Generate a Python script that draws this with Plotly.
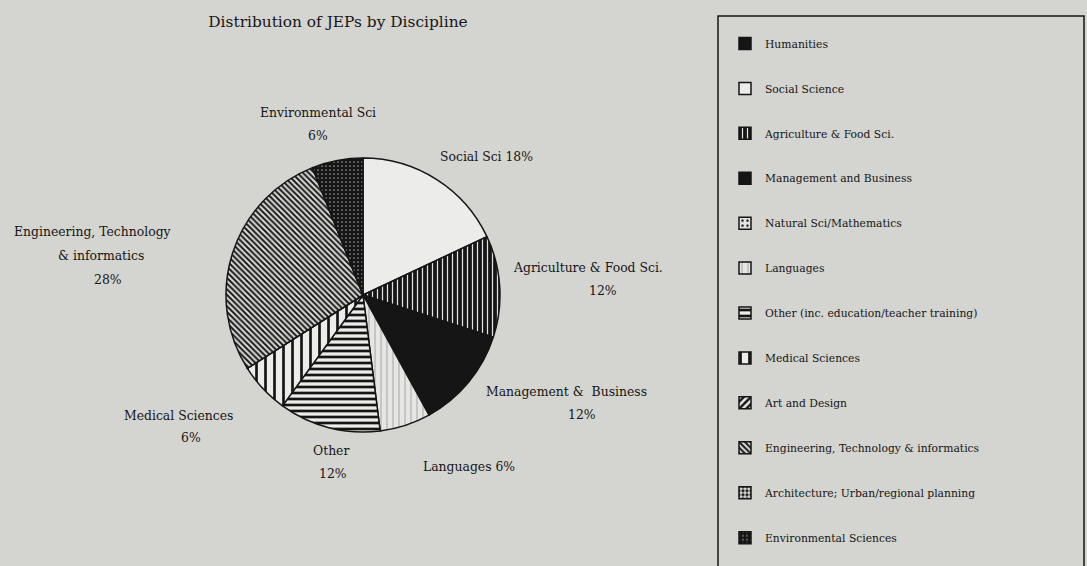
import plotly.graph_objects as go

# ---- data ----
categories = [
    "Humanities", "Social Science", "Agriculture & Food Sci.",
    "Management and Business", "Natural Sci/Mathematics", "Languages",
    "Other (inc. education/teacher training)", "Medical Sciences",
    "Art and Design", "Engineering, Technology & informatics",
    "Architecture; Urban/regional planning", "Environmental Sciences",
]
shares = [0, 18, 12, 12, 0, 6, 12, 6, 0, 28, 0, 6]

# slice labels printed around the pie (text lines)
label_lines = [
    ["Environmental Sci", "6%"],
    ["Social Sci 18%"],
    ["Agriculture & Food Sci.", "12%"],
    ["Management &  Business", "12%"],
    ["Languages 6%"],
    ["Other", "12%"],
    ["Medical Sciences", "6%"],
    ["Engineering, Technology", "& informatics", "28%"],
]

# ---- styles ----
W, H = 1087, 566
BG = "#d4d4d0"
INK = "#151515"
shapes_ = ["", "", "|", "", ".", "|", "-", "|", "/", "\\", ".", "."]
fgcols = ["#151515", "#151515", "#e2e2e0", "#151515", "#222222", "#8a8a8a",
          "#151515", "#151515", "#151515", "#1a1a1a", "#151515", "#9a9a98"]
bgcols = ["#151515", "#ececea", "#151515", "#151515", "#e6e6e4", "#e6e6e4",
          "#ececea", "#ececea", "#ececea", "#dcdcda", "#d8d8d6", "#151515"]
psizes = [6, 6, 5, 6, 5, 6, 6, 9, 5, 4, 4, 4]
psolid = [0.3, 0.3, 0.25, 0.3, 0.2, 0.12, 0.45, 0.3, 0.5, 0.5, 0.5, 0.15]

# label line positions (pixel centres)
label_pos = [
    [(318, 113), (318, 135)],
    [(486, 157)],
    [(588, 267), (603, 290)],
    [(566, 391), (582, 414)],
    [(469, 466)],
    [(331, 450), (333, 473)],
    [(178, 415), (191, 438)],
    [(92, 231), (101, 255), (108, 279)],
]

def px(x):
    return x / W

def py(y):
    return 1 - y / H

# pie geometry (pixels)
cx, cy, r = 363, 295, 137

legend_names = ["\u00a0<br>" + c + "<br>\u00a0" for c in categories]
LEG_FS = 10.75
item_h = 3 * LEG_FS * 1.3 + 3

fig = go.Figure()
fig.add_trace(go.Pie(
    labels=legend_names,
    values=shares,
    sort=False,
    direction="clockwise",
    rotation=0,
    textinfo="none",
    hoverinfo="percent",
    domain=dict(x=[px(cx - r), px(cx + r)], y=[py(cy + r), py(cy - r)]),
    marker=dict(
        colors=bgcols,
        line=dict(color=INK, width=1.5),
        pattern=dict(shape=shapes_, fgcolor=fgcols, bgcolor=bgcols,
                     size=psizes, solidity=psolid, fillmode="replace"),
    ),
))

annotations = []
for lines, poss in zip(label_lines, label_pos):
    for t, (x, y) in zip(lines, poss):
        annotations.append(dict(
            text=t, x=px(x), y=py(y), xref="paper", yref="paper",
            xanchor="center", yanchor="middle", showarrow=False,
            font=dict(family="DejaVu Serif", size=12.4, color=INK),
        ))

fig.update_layout(
    width=W, height=H, autosize=False,
    margin=dict(l=0, r=0, t=0, b=0),
    paper_bgcolor=BG, plot_bgcolor=BG,
    title=dict(text="Distribution of JEPs by Discipline",
               x=px(338), y=py(22), xanchor="center", yanchor="middle",
               font=dict(family="DejaVu Serif", size=15.4, color=INK)),
    annotations=annotations,
    showlegend=True,
    legend=dict(
        x=px(725), y=py(44 - 5 - item_h / 2), xanchor="left", yanchor="top",
        bgcolor="rgba(0,0,0,0)", borderwidth=0,
        font=dict(family="DejaVu Serif", size=LEG_FS, color=INK),
        traceorder="normal", valign="middle",
    ),
    shapes=[dict(type="rect", xref="paper", yref="paper",
                 x0=px(718), x1=px(1084), y0=py(570), y1=py(16),
                 line=dict(color=INK, width=1.5), fillcolor="rgba(0,0,0,0)",
                 layer="below")],
)

fig.write_html("out.html")
